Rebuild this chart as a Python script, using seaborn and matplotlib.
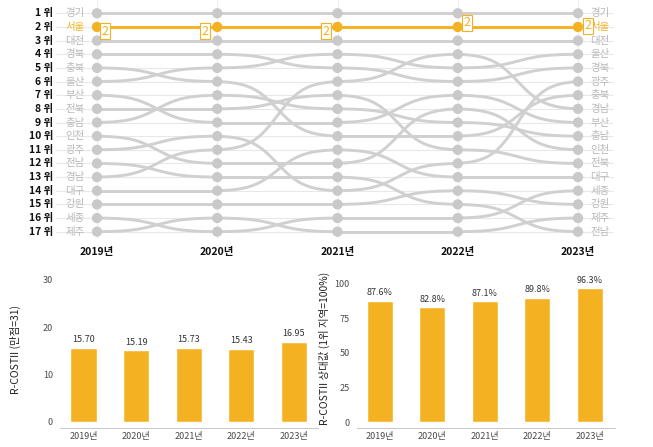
import numpy as np
import pandas as pd
import seaborn as sns
import matplotlib.pyplot as plt

sns.set_style('white')
plt.rcParams['font.family'] = ['Noto Sans CJK KR', 'DejaVu Sans']

years = ['2019년', '2020년', '2021년', '2022년', '2023년']
regions = ['경기', '서울', '대전', '경북', '충북', '울산', '부산', '전북', '충남',
           '인천', '광주', '전남', '경남', '대구', '강원', '세종', '제주']
rank_2019 = [1, 2, 3, 4, 5, 6, 7, 8, 9, 10, 11, 12, 13, 14, 15, 16, 17]
rank_2020 = [1, 2, 3, 4, 6, 5, 9, 8, 7, 12, 10, 13, 11, 14, 15, 17, 16]
rank_2021 = [1, 2, 3, 5, 10, 4, 9, 7, 8, 12, 14, 13, 6, 11, 15, 16, 17]
rank_2022 = [1, 2, 3, 6, 10, 5, 7, 11, 9, 8, 12, 15, 4, 13, 14, 16, 17]
rank_2023 = [1, 2, 3, 5, 7, 4, 9, 12, 10, 11, 6, 17, 8, 13, 15, 14, 16]

score = [15.70, 15.19, 15.73, 15.43, 16.95]
relative = [87.6, 82.8, 87.1, 89.8, 96.3]

highlight = '서울'
orange = '#F4B223'
grey = '#d0d0d0'

ranks = pd.DataFrame({'region': regions, 0: rank_2019, 1: rank_2020, 2: rank_2021,
                      3: rank_2022, 4: rank_2023})
df = ranks.melt(id_vars='region', var_name='year', value_name='rank')
df['year'] = df['year'].astype(int)


def bump(r0, r1, n=50, k=9):
    t = np.linspace(0, 1, n)
    s = 1 / (1 + np.exp(-k * (t - 0.5)))
    s = (s - s[0]) / (s[-1] - s[0])
    return t, r0 + (r1 - r0) * s


W, H = 653, 447
fig = plt.figure(figsize=(W / 100, H / 100), dpi=100)

# ---- bump chart ----
ax = fig.add_axes([0, 1 - 262 / H, 1, 262 / H])
x0, dx = 97, 120.25
y0, dy = 13.3, 13.65
px = lambda p: (p - x0) / dx
ax.set_xlim(px(0), px(W))
ax.set_ylim(1 + (262 - y0) / dy, 1 - y0 / dy)
ax.axis('off')

ax.hlines(range(1, 18), px(56), px(613), color='#e8e8e8', lw=0.8, zorder=0)
ax.vlines(range(5), 1 - y0 / dy, 1 + (238 - y0) / dy, color='#eeeeee', lw=0.8, zorder=0)

for name, g in df.groupby('region'):
    g = g.sort_values('year')
    r = g['rank'].values
    col = orange if name == highlight else grey
    z = 4 if name == highlight else 2
    for i in range(4):
        t, yy = bump(r[i], r[i + 1])
        ax.plot(i + t, yy, color=col, lw=2.1, zorder=z, solid_capstyle='round')

sns.scatterplot(data=df[df.region != highlight], x='year', y='rank', color='#c9c9c9',
                s=55, edgecolor='none', ax=ax, zorder=3, legend=False)
sns.scatterplot(data=df[df.region == highlight], x='year', y='rank', color=orange,
                s=55, edgecolor='none', ax=ax, zorder=5, legend=False)
ax.set_xlabel('')
ax.set_ylabel('')

box_offsets = [(6, -3), (-9, -3), (-8, -3), (7, 3), (7, 1)]
for i, off in enumerate(box_offsets):
    ax.annotate('2', (i, 2), xytext=off, textcoords='offset points', ha='center',
                va='center', fontsize=9, color=orange, zorder=6,
                bbox=dict(boxstyle='square,pad=0.12', fc='white', ec=orange, lw=0.8))

for name, a, b in zip(regions, rank_2019, rank_2023):
    col = orange if name == highlight else '#b8b8b8'
    ax.text(px(75), a, name, ha='center', va='center', fontsize=7.5, color=col)
    ax.text(px(600), b, name, ha='center', va='center', fontsize=7.5, color=col)

for r in range(1, 18):
    ax.text(px(53), r, f'{r} 위', ha='right', va='center', fontsize=7.5,
            fontweight='bold', color='#111111')

for i, y in enumerate(years):
    ax.text(i, 1 + (252 - y0) / dy, y, ha='center', va='center', fontsize=7.5,
            fontweight='bold', color='#111111')

# ---- bar charts ----
def bar_panel(rect, values, labels, ylim, xlim, ticks, ylabel):
    a = fig.add_axes(rect)
    sns.barplot(x=years, y=values, color=orange, saturation=1, width=0.5, ax=a)
    a.set_ylim(*ylim)
    a.set_xlim(*xlim)
    a.set_yticks(ticks)
    a.tick_params(axis='both', length=0, labelsize=6.5, colors='#4a4a4a')
    a.tick_params(axis='y', pad=5)
    a.tick_params(axis='x', pad=3)
    for s in ['top', 'right', 'left']:
        a.spines[s].set_visible(False)
    a.spines['bottom'].set_color('#cccccc')
    a.spines['bottom'].set_linewidth(0.8)
    a.set_ylabel(ylabel, fontsize=7.5, color='#222222')
    for i, (v, t) in enumerate(zip(values, labels)):
        a.annotate(t, (i, v), xytext=(0, 2.5), textcoords='offset points',
                   ha='center', va='bottom', fontsize=6.5, color='#333333')
    return a

ax2 = bar_panel([60 / W, 1 - 428 / H, 258 / W, 158 / H], score,
                [f'{v:.2f}' for v in score], (-1.27, 32.1), (-0.447, 4.458),
                [0, 10, 20, 30], 'R-COSTII (만점=31)')
ax2.yaxis.set_label_coords(-0.15, 0.5)

ax3 = bar_panel([356.7 / W, 1 - 427.7 / H, 258.3 / W, 157.7 / H], relative,
                [f'{v:.1f}%' for v in relative], (-3.9, 109.6), (-0.438, 4.48),
                [0, 25, 50, 75, 100], 'R-COSTII 상대값 (1위 지역=100%)')
ax3.yaxis.set_label_coords(-0.103, 0.5)

fig.savefig('out.png', dpi=100)
